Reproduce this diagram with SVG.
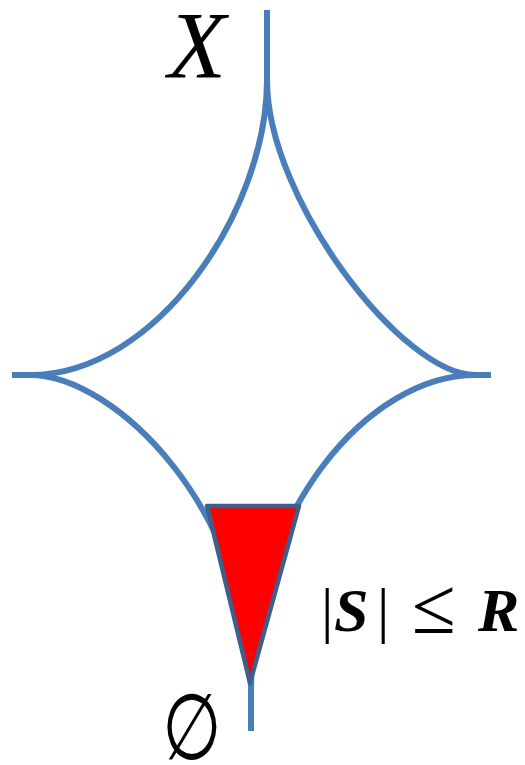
<svg xmlns="http://www.w3.org/2000/svg" width="525" height="765" viewBox="0 0 525 765">
<style>
.curve{fill:none;stroke:#4a7ebb;stroke-width:6;stroke-linejoin:round}
.tri{fill:#ff0000;stroke:#3d5f8c;stroke-width:4.5;stroke-linejoin:round}
.math{font-family:"Liberation Serif","DejaVu Serif",serif;fill:#000}
.bi{font-weight:bold;font-style:italic}
</style>
<rect width="525" height="765" fill="#ffffff"/>
<g id="connectors">
<path class="curve" d="M267 10 V80 C267 210 157 375 30 375 H12"/>
<path class="curve" d="M267 80 C267 200 403 375 475 375 H491"/>
<path class="curve" d="M30 375 C115 375 251 510 251 690 V731"/>
<path class="curve" d="M475 375 C370 375 251 510 251 690"/>
</g>
<g id="region">
<polygon class="tri" points="207,506 299,506 250,683"/>
</g>
<g id="label-x">
<text class="math" x="168" y="78" font-size="95" font-style="italic">X</text>
</g>
<g id="label-empty">
<text x="0" y="0" font-family="DejaVu Sans, sans-serif" font-size="92" transform="translate(192 759) scale(0.74 1)" text-anchor="middle">∅</text>
</g>
<g id="label-bound">
<text class="math" y="631" font-size="62"><tspan x="321">|</tspan><tspan x="334" class="bi">S</tspan><tspan x="377">|</tspan><tspan x="412" y="633" font-size="80">≤</tspan><tspan x="478" y="631" class="bi">R</tspan></text>
</g>
</svg>
